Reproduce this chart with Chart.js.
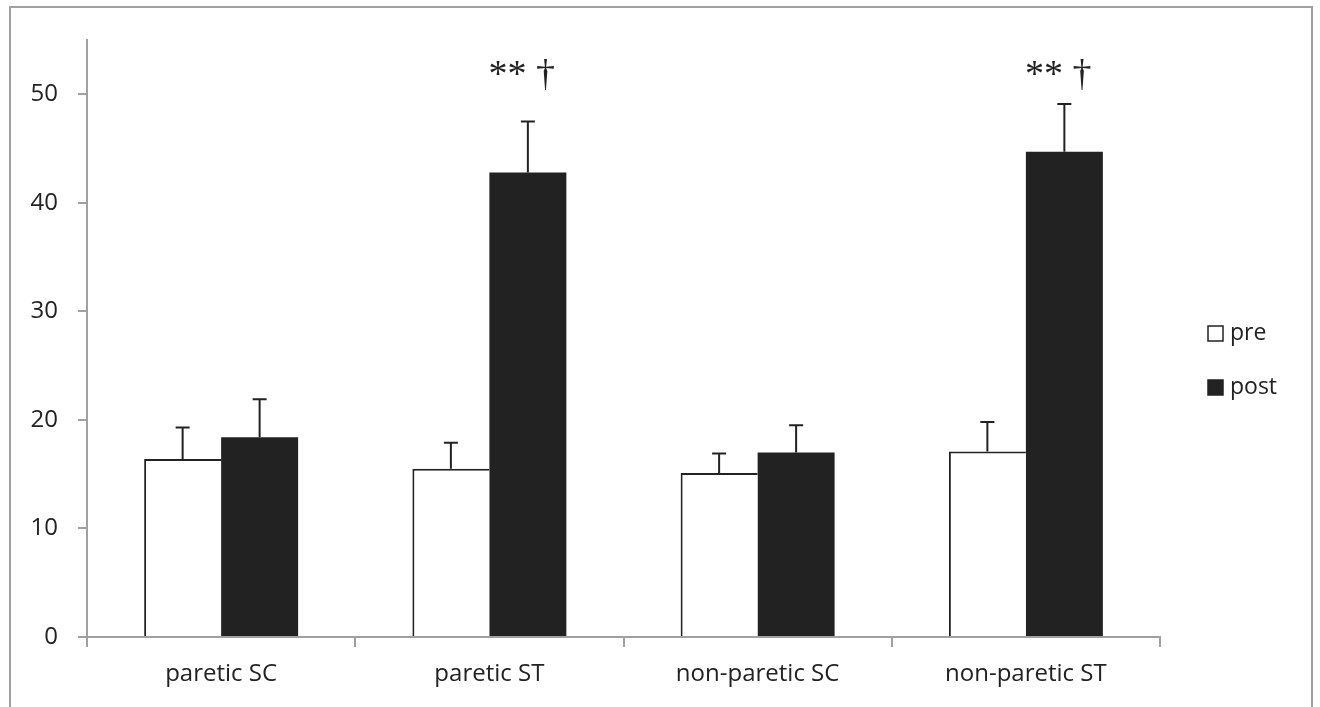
<!DOCTYPE html>
<html>
<head>
<meta charset="utf-8">
<script src="https://cdn.jsdelivr.net/npm/chart.js@4/dist/chart.umd.min.js"></script>
<style>
  html, body { margin: 0; padding: 0; background: #fff; }
  #wrap { position: relative; width: 1320px; height: 707px; overflow: hidden; }
  #frame { position: absolute; left: 9px; top: 6px; width: 1304px; height: 720px; border: 2px solid #a0a0a0; box-sizing: border-box; }
  canvas { position: absolute; left: 0; top: 0; }
</style>
</head>
<body>
<div id="wrap">
  <div id="frame"></div>
  <canvas id="chart" width="1320" height="707"></canvas>
</div>
<script>
const categories = ['paretic SC', 'paretic ST', 'non-paretic SC', 'non-paretic ST'];
const preValues = [16.4, 15.5, 15.1, 17.1];
const postValues = [18.4, 42.8, 17.0, 44.7];
// top of each error bar (mean + SD)
const preErrTop = [19.3, 17.9, 16.9, 19.8];
const postErrTop = [21.9, 47.5, 19.5, 49.1];
const postMarks = ['', '** †', '', '** †'];
const yTicks = [0, 10, 20, 30, 40, 50];

const axisGrey = '#a0a0a0';
const barDark = '#222222';
const tickFont = { family: 'Open Sans', size: 24 };

const errorBars = {
  id: 'errorBars',
  afterDatasetsDraw(chart) {
    const ctx = chart.ctx;
    const y = chart.scales.y;
    const tops = [preErrTop, postErrTop];
    ctx.save();
    ctx.strokeStyle = barDark;
    ctx.lineWidth = 2;
    chart.data.datasets.forEach((ds, di) => {
      chart.getDatasetMeta(di).data.forEach((bar, i) => {
        const yTop = y.getPixelForValue(tops[di][i]);
        ctx.beginPath();
        ctx.moveTo(bar.x, bar.y);
        ctx.lineTo(bar.x, yTop);
        ctx.moveTo(bar.x - 7, yTop);
        ctx.lineTo(bar.x + 7, yTop);
        ctx.stroke();
      });
    });
    // significance marks above the post bars
    ctx.fillStyle = barDark;
    ctx.font = '38px "Liberation Serif"';
    ctx.textAlign = 'center';
    ctx.textBaseline = 'middle';
    chart.getDatasetMeta(1).data.forEach((bar, i) => {
      if (postMarks[i]) ctx.fillText(postMarks[i], bar.x - 6, 76);
    });
    // legend
    const items = [['pre', '#ffffff'], ['post', barDark]];
    ctx.font = '23px "Open Sans"';
    ctx.textAlign = 'left';
    items.forEach((it, k) => {
      const cy = 333 + k * 54;
      ctx.fillStyle = it[1];
      ctx.fillRect(1208, cy - 7, 15, 15);
      ctx.strokeStyle = barDark;
      ctx.lineWidth = 1.5;
      ctx.strokeRect(1208, cy - 7, 15, 15);
      ctx.fillStyle = barDark;
      ctx.fillText(it[0], 1230, cy);
    });
    ctx.restore();
  }
};

new Chart(document.getElementById('chart'), {
  type: 'bar',
  data: {
    labels: categories,
    datasets: [
      { label: 'pre', data: preValues, backgroundColor: '#ffffff', borderColor: barDark, borderWidth: { top: 2, left: 2, right: 0, bottom: 0 }, borderSkipped: 'bottom' },
      { label: 'post', data: postValues, backgroundColor: barDark, borderWidth: 0 }
    ]
  },
  options: {
    responsive: false,
    animation: false,
    categoryPercentage: 0.574,
    barPercentage: 1.0,
    layout: { padding: { top: 40, right: 160, left: 0, bottom: 0 } },
    plugins: { legend: { display: false }, tooltip: { enabled: false } },
    scales: {
      x: {
        offset: true,
        grid: { offset: true, drawOnChartArea: false, drawTicks: true, tickLength: 10, color: axisGrey, lineWidth: 2 },
        border: { color: axisGrey, width: 2 },
        ticks: { color: barDark, font: tickFont, padding: 13 },
        afterFit(scale) { scale.height = 70; }
      },
      y: {
        min: 0,
        max: 55,
        afterBuildTicks(scale) { scale.ticks = yTicks.map(v => ({ value: v })); },
        grid: { drawOnChartArea: false, drawTicks: true, tickLength: 9, color: axisGrey, lineWidth: 2 },
        border: { color: axisGrey, width: 2 },
        ticks: { color: barDark, font: tickFont, padding: 20 },
        afterFit(scale) { scale.width = 87; }
      }
    }
  },
  plugins: [errorBars]
});
</script>
</body>
</html>
